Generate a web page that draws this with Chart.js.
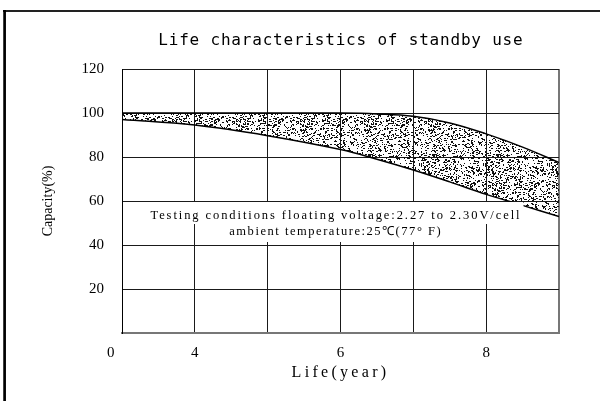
<!DOCTYPE html>
<html lang="en">
<head>
    <meta charset="UTF-8">
    <title>Life characteristics of standby use</title>
    <script src="https://cdn.jsdelivr.net/npm/chart.js"></script>
    <style>
        body { margin: 0; background: #fff; }
        canvas { display: block; }
    </style>
</head>
<body>
    <canvas id="lifeChart" width="600" height="401"></canvas>
    <script>
        // data
        const years = [3, 4, 5, 6, 6.5, 7, 7.5, 8, 8.5, 9];
        const upperCapacity = [100, 100, 100, 100, 99.6, 98.5, 95.5, 90.5, 84.5, 77.5];
        const lowerCapacity = [97.1, 94.5, 89.7, 83.4, 79, 74.1, 68.7, 63, 58, 52.9];

        const xTickValues = [3, 4, 5, 6, 7, 8, 9];
        const xTickLabels = ['0', '4', '', '6', '', '8', ''];
        const yTickValues = [0, 20, 40, 60, 80, 100, 120];
        const yTickLabels = ['', '20', '40', '60', '80', '100', '120'];

        const titleText = 'Life characteristics of standby use';
        const noteLines = ['Testing conditions floating voltage:2.27 to 2.30V/cell',
                           'ambient temperature:25℃(77° F)'];
        const noteWidths = [371, 213];

        // stipple texture for the band between the two curves
        function makeStipple() {
            const c = document.createElement('canvas');
            c.width = 64; c.height = 64;
            const g = c.getContext('2d');
            g.fillStyle = '#111';
            let s = 12345;
            const rnd = () => { s = (s * 1103515245 + 12345) % 2147483648; return s / 2147483648; };
            for (let i = 0; i < 900; i++) {
                const x = Math.floor(rnd() * 64), y = Math.floor(rnd() * 64);
                const r = rnd();
                if (r < 0.3) g.fillRect(x, y, 2, 1);
                else if (r < 0.4) g.fillRect(x, y, 1, 2);
                else g.fillRect(x, y, 1, 1);
            }
            return g.createPattern(c, 'repeat');
        }

        const toPoints = vals => vals.map((v, i) => ({ x: years[i], y: v }));

        // spread a scale's title letters like the reference
        function spaceTitle(scale, spacing) {
            if (scale._spaced) return;
            const orig = scale.drawTitle.bind(scale);
            scale.drawTitle = function () {
                const c = this.ctx;
                const old = c.letterSpacing;
                c.letterSpacing = spacing;
                orig();
                c.letterSpacing = old;
            };
            scale._spaced = true;
        }

        const decor = {
            id: 'decor',
            afterUpdate(chart) {
                spaceTitle(chart.scales.x, '3.3px');
            },
            beforeDraw(chart) {
                const c = chart.ctx;
                c.save();
                c.fillStyle = '#fff';
                c.fillRect(0, 0, chart.width, chart.height);
                c.restore();
            },
            afterDatasetsDraw(chart) {
                const c = chart.ctx;
                c.save();
                c.font = '12.5px "Liberation Serif"';
                c.textAlign = 'center';
                c.textBaseline = 'middle';
                const cx = 335;
                const rows = [[216, 202, 224], [232, 224, 242]];
                noteLines.forEach((t, i) => {
                    c.letterSpacing = '0px';
                    const w0 = c.measureText(t).width;
                    const sp = (noteWidths[i] - w0) / t.length;
                    c.letterSpacing = sp + 'px';
                    c.fillStyle = '#fff';
                    c.fillRect(cx - noteWidths[i] / 2 - 3, rows[i][1], noteWidths[i] + 6, rows[i][2] - rows[i][1]);
                    c.fillStyle = '#000';
                    c.fillText(t, cx + sp / 2, rows[i][0]);
                });
                c.restore();
            },
            afterDraw(chart) {
                const c = chart.ctx;
                const a = chart.chartArea;
                c.save();
                // frame (top and left edges only)
                c.strokeStyle = '#222';
                c.lineWidth = 2;
                c.beginPath();
                c.moveTo(3, 11); c.lineTo(600, 11);
                c.stroke();
                c.lineWidth = 2.7;
                c.strokeStyle = '#000';
                c.beginPath();
                c.moveTo(4.6, 10); c.lineTo(4.6, 401);
                c.stroke();
                // title
                c.font = '16px "DejaVu Sans Mono"';
                c.letterSpacing = '0.8px';
                c.fillStyle = '#000';
                c.textAlign = 'center';
                c.textBaseline = 'middle';
                c.fillText(titleText, (a.left + a.right) / 2 + 0.4, 40.5);
                c.restore();
            }
        };

        new Chart(document.getElementById('lifeChart'), {
            type: 'line',
            data: {
                datasets: [
                    {
                        label: 'upper',
                        data: toPoints(upperCapacity),
                        borderColor: '#000',
                        borderWidth: 1.5,
                        pointRadius: 0,
                        fill: false,
                        tension: 0.4
                    },
                    {
                        label: 'lower',
                        data: toPoints(lowerCapacity),
                        borderColor: '#000',
                        borderWidth: 1.5,
                        pointRadius: 0,
                        fill: '-1',
                        backgroundColor: makeStipple(),
                        tension: 0.4
                    }
                ]
            },
            options: {
                responsive: false,
                animation: false,
                devicePixelRatio: 1,
                layout: { padding: { left: 0, right: 41, top: 69, bottom: 0 } },
                plugins: {
                    legend: { display: false },
                    tooltip: { enabled: false },
                    title: { display: false }
                },
                scales: {
                    x: {
                        type: 'linear',
                        min: 3,
                        max: 9,
                        afterBuildTicks: s => { s.ticks = xTickValues.map(v => ({ value: v })); },
                        afterFit: s => { s.height = 68; },
                        ticks: {
                            autoSkip: false,
                            maxRotation: 0,
                            padding: 11,
                            color: '#000',
                            font: { family: 'Liberation Serif', size: 15 },
                            callback: (v, i) => i === 0 ? xTickLabels[i] + '      ' : xTickLabels[i]
                        },
                        grid: {
                            drawTicks: false,
                            color: c => c.tick && c.tick.value === 9 ? '#777' : '#1a1a1a',
                            lineWidth: c => c.tick && c.tick.value === 9 ? 2 : 1
                        },
                        border: { color: '#777', width: 2 },
                        title: {
                            display: true,
                            text: 'Life(year)',
                            color: '#000',
                            font: { family: 'Liberation Serif', size: 16 },
                            padding: { top: 0, bottom: 19 }
                        }
                    },
                    y: {
                        min: 0,
                        max: 120,
                        afterBuildTicks: s => { s.ticks = yTickValues.map(v => ({ value: v })); },
                        afterFit: s => { s.width = 122; },
                        ticks: {
                            padding: 18,
                            color: '#000',
                            font: { family: 'Liberation Serif', size: 15 },
                            callback: (v, i) => yTickLabels[i]
                        },
                        grid: {
                            drawTicks: false,
                            color: '#1a1a1a',
                            lineWidth: 1
                        },
                        border: { color: '#000', width: 1 },
                        title: {
                            display: true,
                            text: 'Capacity(%)',
                            color: '#000',
                            font: { family: 'Liberation Serif', size: 14 },
                            padding: { top: 40, bottom: 0 }
                        }
                    }
                }
            },
            plugins: [decor]
        });
    </script>
</body>
</html>
